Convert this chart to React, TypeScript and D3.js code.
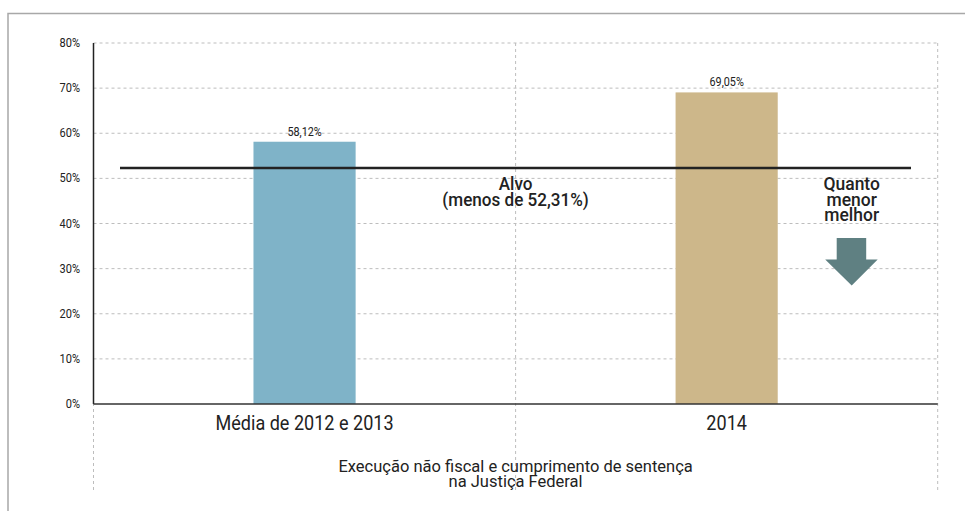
import * as d3 from "d3";
import { useEffect, useRef } from "react";

const categories = ["Média de 2012 e 2013", "2014"];
const values = [58.12, 69.05];
const valueLabels = ["58,12%", "69,05%"];
const barColors = ["#7fb3c8", "#cdb78a"];
const yTicks = [0, 10, 20, 30, 40, 50, 60, 70, 80];
const target = 52.31;
const targetLabel = ["Alvo", "(menos de 52,31%)"];
const hintLabel = ["Quanto", "menor", "melhor"];
const titleLines = ["Execução não fiscal e cumprimento de sentença", "na Justiça Federal"];

const W = 965;
const H = 511;
const FONT = "Roboto, 'Liberation Sans', sans-serif";

// condensed-looking text: squeeze horizontally around the anchor point
const addText = (g, x, y, txt, size, sx, anchor = "middle", weight = 400) =>
    g.append("text")
        .attr("transform", `translate(${x},${y}) scale(${sx},1)`)
        .attr("text-anchor", anchor)
        .attr("font-family", FONT)
        .attr("font-size", size)
        .attr("font-weight", weight)
        .attr("fill", "#222")
        .text(txt);

const App = () => {
    const svgRef = useRef<SVGSVGElement>(null);

    useEffect(() => {
        const svg = d3.select(svgRef.current);
        svg.selectAll("*").remove();

        const left = 93.5, right = 937.7, top = 43, bottom = 404;

        const x = d3.scaleBand().domain(categories).range([left, right]).padding(0);
        const y = d3.scaleLinear().domain([0, 80]).range([bottom, top]);
        const mid = left + x.bandwidth();

        // frame
        svg.append("path")
            .attr("d", `M8,${H} L8,13.5 L${W},13.5`)
            .attr("fill", "none")
            .attr("stroke", "#a8a8a8")
            .attr("stroke-width", 1.5);

        // horizontal grid
        svg.append("g").selectAll("line").data(yTicks.filter(t => t > 0)).join("line")
            .attr("x1", left).attr("x2", right)
            .attr("y1", d => y(d)).attr("y2", d => y(d))
            .attr("stroke", "#bdbdbd").attr("stroke-dasharray", "3,3").attr("stroke-width", 1);

        // vertical separators
        const seps = [left, mid, right];
        svg.append("g").selectAll("line").data(seps).join("line")
            .attr("x1", d => d).attr("x2", d => d)
            .attr("y1", top).attr("y2", 490)
            .attr("stroke", "#bdbdbd").attr("stroke-dasharray", "3,3").attr("stroke-width", 1);

        // y tick labels
        const ticks = svg.append("g");
        yTicks.forEach(t => addText(ticks, 80, y(t) + 4, t + "%", 12, 0.92, "end"));

        // bars
        const bw = x.bandwidth() * 0.242;
        svg.append("g").selectAll("rect").data(categories).join("rect")
            .attr("x", d => x(d)! + x.bandwidth() / 2 - bw / 2)
            .attr("y", (d, i) => y(values[i]))
            .attr("width", bw)
            .attr("height", (d, i) => bottom - y(values[i]))
            .attr("fill", (d, i) => barColors[i]);

        const vals = svg.append("g");
        categories.forEach((c, i) =>
            addText(vals, x(c)! + x.bandwidth() / 2, y(values[i]) - 6, valueLabels[i], 12, 0.9));

        // axes lines
        svg.append("line")
            .attr("x1", left).attr("x2", left).attr("y1", top).attr("y2", bottom)
            .attr("stroke", "#222").attr("stroke-width", 1.5);
        svg.append("line")
            .attr("x1", left).attr("x2", right).attr("y1", bottom).attr("y2", bottom)
            .attr("stroke", "#333").attr("stroke-width", 1.5);

        // target line
        svg.append("line")
            .attr("x1", 120).attr("x2", 911)
            .attr("y1", y(target)).attr("y2", y(target))
            .attr("stroke", "#222").attr("stroke-width", 2.5);

        const tl = svg.append("g");
        targetLabel.forEach((t, i) => addText(tl, mid, 190 + i * 16, t, 18, 0.95, "middle", 500));

        // hint
        const hx = 851.7;
        const hl = svg.append("g");
        hintLabel.forEach((t, i) => addText(hl, hx, 190 + i * 15.5, t, 18, 0.97, "middle", 500));

        const arrow = d3.path();
        arrow.moveTo(hx - 15, 238);
        arrow.lineTo(hx + 14.5, 238);
        arrow.lineTo(hx + 14.5, 259.5);
        arrow.lineTo(hx + 26, 259.5);
        arrow.lineTo(hx, 285.5);
        arrow.lineTo(hx - 26.5, 259.5);
        arrow.lineTo(hx - 15, 259.5);
        arrow.closePath();
        svg.append("path").attr("d", arrow.toString()).attr("fill", "#5f8082");

        // category labels
        const cl = svg.append("g");
        categories.forEach(c => addText(cl, x(c)! + x.bandwidth() / 2, 430, c, 21, 0.86));

        // title
        const tt = svg.append("g");
        titleLines.forEach((t, i) => addText(tt, mid, 472 + i * 15, t, 16.5, 1.0));
    }, []);

    return (
        <svg ref={svgRef} width={W} height={H}
            style={{ position: "absolute", left: 0, top: 0, background: "#fff" }} />
    );
};

export default App;
